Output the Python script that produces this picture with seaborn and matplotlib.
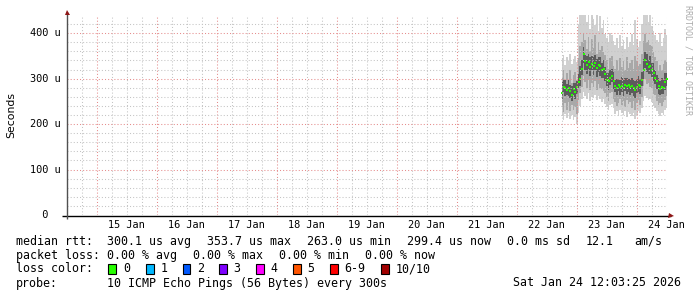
import numpy as np
import pandas as pd
import matplotlib
matplotlib.use("Agg")
import matplotlib.pyplot as plt
from matplotlib.patches import Rectangle
from matplotlib.ticker import FixedLocator
import seaborn as sns

# ---------------- data ----------------
# samples: every 40 minutes, starting Jan 22 18:00 (x = day of January 2026)
t_start_day = 22.75
t_step_min = 40

median_us = [268, 282, 279, 276, 280, 272, 263, 277, 271, 281,
             293, 300, 322, 353.7,
             338, 330, 337, 326, 333, 328, 335, 324, 331, 327, 318, 322, 310,
             298, 294, 302, 306, 295,
             284, 279, 286, 281, 284, 279, 287, 283, 285, 281, 284, 279, 274, 282, 286, 284,
             296, 320, 340, 332, 325, 328, 318, 313, 302,
             294, 283, 278, 281, 279, 292, 299.4]

ping_max = [345, 352, 330, 348, 338, 355, 332, 344, 350, 336,
            420, 440, 445, 440,
            445, 425, 440, 410, 445, 432, 418, 445, 405, 438, 412, 428, 398,
            390, 378, 400, 395, 382,
            375, 390, 368, 395, 372, 385, 365, 392, 370, 380, 398, 375, 428, 388, 370, 382,
            420, 445, 440, 445, 425, 445, 415, 405, 395,
            385, 378, 400, 372, 390, 410, 395]

ping_min = [218, 210, 222, 214, 225, 212, 220, 208, 215, 200,
            225, 240, 255, 270,
            262, 255, 268, 250, 260, 258, 265, 252, 262, 256, 248, 255, 245,
            238, 232, 242, 245, 235,
            222, 228, 218, 230, 225, 220, 228, 215, 226, 222, 218, 225, 212, 220, 228, 224,
            235, 250, 262, 258, 252, 256, 248, 240, 235,
            228, 222, 218, 225, 220, 230, 235]

ping_lo = [238, 226, 246, 232, 248, 228, 242, 230, 238, 222,
           252, 268, 282, 305,
           292, 280, 296, 276, 290, 282, 294, 275, 288, 280, 278, 272, 268,
           260, 250, 268, 270, 255,
           248, 240, 246, 255, 242, 250, 238, 252, 244, 248, 236, 250, 232, 246, 252, 242,
           260, 284, 300, 288, 290, 282, 280, 266, 264,
           250, 242, 246, 240, 248, 252, 262]

ping_hi = [302, 318, 295, 312, 298, 320, 290, 308, 314, 298,
           345, 372, 380, 398,
           385, 365, 392, 360, 388, 368, 395, 355, 380, 362, 372, 358, 352,
           340, 322, 345, 350, 328,
           322, 342, 318, 345, 325, 338, 318, 348, 324, 335, 342, 322, 350, 338, 328, 332,
           355, 382, 398, 380, 385, 375, 372, 358, 348,
           338, 320, 330, 318, 332, 342, 336]

core_lo = [256, 270, 262, 264, 262, 258, 250, 264, 255, 266,
           280, 283, 308, 334,
           320, 310, 322, 306, 318, 308, 320, 303, 315, 306, 302, 302, 294,
           284, 276, 287, 292, 278,
           270, 263, 272, 265, 270, 262, 272, 266, 270, 263, 268, 262, 258, 268, 271, 266,
           283, 300, 324, 314, 310, 310, 304, 294, 288,
           278, 266, 265, 266, 266, 274, 284]

core_hi = [292, 296, 296, 288, 298, 286, 284, 290, 290, 294,
           310, 328, 342, 370,
           352, 350, 354, 348, 349, 348, 351, 344, 347, 347, 334, 342, 326,
           313, 312, 318, 322, 314,
           298, 300, 300, 298, 303, 296, 302, 301, 300, 299, 302, 296, 294, 300, 305, 300,
           314, 344, 358, 354, 342, 350, 335, 334, 318,
           308, 302, 294, 302, 296, 312, 313]

y_ticks = [0, 100, 200, 300, 400]
y_tick_labels = ["  0", "100 u", "200 u", "300 u", "400 u"]
day_ticks = [15, 16, 17, 18, 19, 20, 21, 22, 23, 24]
day_labels = ["15 Jan", "16 Jan", "17 Jan", "18 Jan", "19 Jan",
              "20 Jan", "21 Jan", "22 Jan", "23 Jan", "24 Jan"]

rtt_label = "median rtt:"
rtt_items = ["300.1 us avg", "353.7 us max", "263.0 us min", "299.4 us now",
             "0.0 ms sd", "12.1", "am/s"]
loss_label = "packet loss:"
loss_items = ["0.00 % avg", "0.00 % max", "0.00 % min", "0.00 % now"]
color_label = "loss color:"
loss_names = ["0", "1", "2", "3", "4", "5", "6-9", "10/10"]
loss_colors = ["#26ff00", "#00b8ff", "#0059ff", "#7e00ff",
               "#ff00ff", "#ff5500", "#ff0000", "#a10000"]
probe_label = "probe:"
probe_text = "10 ICMP Echo Pings (56 Bytes) every 300s"
stamp_text = "Sat Jan 24 12:03:25 2026"
watermark = "RRDTOOL / TOBI OETIKER"

# ---------------- figure ----------------
sns.set_theme(style="white")
plt.rcParams["font.family"] = ["DejaVu Sans Mono", "DejaVu Sans"]

W, H = 697, 297
fig = plt.figure(figsize=(W / 100, H / 100), dpi=100, facecolor="white")

# graph area in pixels: x 67..667, y 15..215
gx0, gx1, gy0, gy1 = 67, 667, 15, 215
ax = fig.add_axes([gx0 / W, (H - gy1) / H, (gx1 - gx0) / W, (gy1 - gy0) / H])
ax.set_facecolor("white")

n = len(median_us)
times = t_start_day + np.arange(n) * t_step_min / 1440.0
df = pd.DataFrame({"t": times, "median": median_us,
                   "pmin": ping_min, "pmax": ping_max,
                   "plo": ping_lo, "phi": ping_hi,
                   "clo": core_lo, "chi": core_hi})

ax.fill_between(df.t, df.pmin, df.pmax, step="mid", color="#d0d0d0", lw=0, zorder=1)
ax.fill_between(df.t, df.plo, df.phi, step="mid", color="#a8a8a8", lw=0, zorder=1.1)
ax.fill_between(df.t, df.clo, df.chi, step="mid", color="#5c5c5c", lw=0, zorder=1.2)
sns.scatterplot(data=df, x="t", y="median", ax=ax, marker="s", s=3.4,
                color="#26ff00", linewidth=0, zorder=2, legend=False)

x_lo = 14.5 + 3 / 1440
x_hi = 24.5 + 3 / 1440
ax.set_xlim(x_lo, x_hi)
ax.set_ylim(0, 440)

# grid
minor_x = [d for d in np.arange(14.75, 24.6, 0.25) if abs(d - round(d)) > 1e-6]
minor_y = [v for v in range(20, 440, 20) if v % 100 != 0]
ax.xaxis.set_major_locator(FixedLocator(day_ticks))
ax.xaxis.set_minor_locator(FixedLocator(minor_x))
ax.yaxis.set_major_locator(FixedLocator(y_ticks[1:]))
ax.yaxis.set_minor_locator(FixedLocator(minor_y))
ax.set_axisbelow(False)
ax.grid(which="minor", color="#c4c4c4", linestyle=(0, (1, 2)), linewidth=0.75)
ax.grid(which="major", color="#e58c8c", linestyle=(0, (1, 2)), linewidth=0.75)
ax.tick_params(which="both", length=0, labelbottom=False, labelleft=False)
for s in ax.spines.values():
    s.set_visible(False)
ax.set_xlabel("")
ax.set_ylabel("")

# axis lines with arrows
def px2ax(px, py):
    return (px - gx0) / (gx1 - gx0), (gy1 - py) / (gy1 - gy0)

bx0, by = px2ax(62, 215.5)
bx1, _ = px2ax(671, 215.5)
ax.plot([bx0, bx1], [by, by], transform=ax.transAxes, color="black",
        lw=1.0, clip_on=False, zorder=5, solid_capstyle="butt")
lx, ly0 = px2ax(66.8, 219)
_, ly1 = px2ax(66.8, 12)
ax.plot([lx, lx], [ly0, ly1], transform=ax.transAxes, color="#505050",
        lw=1.0, clip_on=False, zorder=5, solid_capstyle="butt")
ax.plot([bx1], [by], transform=ax.transAxes, marker=">", ms=3.6,
        color="#8e1616", clip_on=False, zorder=6, mew=0)
ax.plot([lx], [ly1], transform=ax.transAxes, marker="^", ms=3.6,
        color="#8e1616", clip_on=False, zorder=6, mew=0)

# tick labels
for v, lab in zip(y_ticks, y_tick_labels):
    ax.text((29.5 - gx0) / (gx1 - gx0), v, lab, transform=ax.get_yaxis_transform(),
            ha="left", va="center", fontsize=7.35, color="black",
            family="DejaVu Sans Mono")
for d, lab in zip(day_ticks, day_labels):
    ax.text(d + 0.5, (gy1 - 225) / (gy1 - gy0), lab, transform=ax.get_xaxis_transform(),
            ha="center", va="center", fontsize=7.35, color="black",
            family="DejaVu Sans Mono")

fig.text(11 / W, 1 - 115 / H, "Seconds", rotation=90, ha="center", va="center",
         fontsize=7.8, family="DejaVu Sans", color="black")

fig.text(688 / W, 1 - 60 / H, watermark, rotation=-90, ha="center", va="center",
         fontsize=6.0, family="DejaVu Sans Mono", color="#ababab")

# legend block
FS = 8.35
def ftext(px, py, s, **kw):
    fig.text(px / W, 1 - py / H, s, ha="left", va="center", fontsize=FS,
             family="DejaVu Sans Mono", color="black", **kw)

ly = [241.3, 255.3, 268.7, 283.0]
ftext(15.5, ly[0], rtt_label)
for xp, s in zip([106.8, 206.8, 306.8, 406.8, 506.8, 585.8, 634.3], rtt_items):
    ftext(xp, ly[0], s)
ftext(15.5, ly[1], loss_label)
for xp, s in zip([106.8, 192.8, 278.8, 364.8], loss_items):
    ftext(xp, ly[1], s)
ftext(15.5, ly[2], color_label)
box_x = [108.3, 146.0, 182.7, 219.3, 256.0, 293.3, 330.0, 381.3]
lab_x = [122.8, 160.2, 196.8, 233.5, 270.2, 307.5, 344.2, 395.8]
for bxp, lxp, name, col in zip(box_x, lab_x, loss_names, loss_colors):
    fig.patches.append(Rectangle((bxp / W, 1 - 273.5 / H), 7.6 / W, 9.5 / H,
                                 transform=fig.transFigure, facecolor=col,
                                 edgecolor="black", linewidth=0.8))
    ftext(lxp, ly[2], name)
ftext(15.5, ly[3], probe_label)
ftext(106.8, ly[3], probe_text)
ftext(513.2, ly[3], stamp_text)

fig.savefig("out.png", dpi=100, facecolor="white")
